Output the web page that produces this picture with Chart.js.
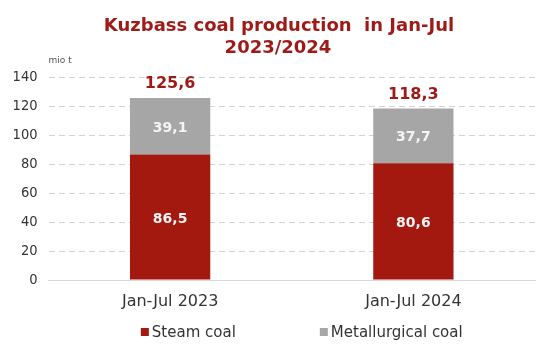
<!DOCTYPE html>
<html>
<head>
<meta charset="utf-8">
<script src="https://cdn.jsdelivr.net/npm/chart.js@4/dist/chart.umd.min.js"></script>
<style>
html,body{margin:0;padding:0;background:#fff;}
#wrap{width:554px;height:359px;position:relative;}
</style>
</head>
<body>
<div id="wrap"><canvas id="c" width="554" height="359"></canvas></div>
<script>
const categories = ["Jan-Jul 2023", "Jan-Jul 2024"];
const steamCoal = [86.5, 80.6];
const metallurgicalCoal = [39.1, 37.7];
const totals = [125.6, 118.3];
const seriesNames = ["Steam coal", "Metallurgical coal"];
const titleLines = ["Kuzbass coal production  in Jan-Jul", "2023/2024"];
const unitLabel = "mio t";

const RED = "#a3180f";
const GRAY = "#a6a6a6";
const TITLE_COLOR = "#9e1a16";
const FONT = "'DejaVu Sans', Verdana, sans-serif";
const FONT_COND = "'DejaVu Sans Condensed', 'DejaVu Sans', sans-serif";

const fmt = v => v.toFixed(1).replace('.', ',');

const overlay = {
  id: 'overlay',
  afterDraw(chart) {
    const ctx = chart.ctx;
    const ca = chart.chartArea;
    ctx.save();
    // title
    ctx.fillStyle = TITLE_COLOR;
    ctx.font = "bold 18px " + FONT;
    ctx.textAlign = 'center';
    ctx.textBaseline = 'alphabetic';
    ctx.fillText(titleLines[0], 279, 31);
    ctx.fillText(titleLines[1], 278, 53);
    // unit
    ctx.textBaseline = 'middle';
    ctx.font = "9px " + FONT;
    ctx.fillStyle = "#555";
    ctx.textAlign = 'left';
    ctx.fillText(unitLabel, ca.left, 61);
    // segment labels
    ctx.font = "bold 14px " + FONT;
    ctx.fillStyle = "#f4f4f4";
    ctx.textAlign = 'center';
    chart.data.datasets.forEach((ds, di) => {
      const meta = chart.getDatasetMeta(di);
      meta.data.forEach((el, i) => {
        ctx.fillText(fmt(ds.data[i]), el.x, (el.y + el.base) / 2 + 2);
      });
    });
    // totals
    const topMeta = chart.getDatasetMeta(chart.data.datasets.length - 1);
    ctx.font = "bold 16px " + FONT;
    ctx.fillStyle = TITLE_COLOR;
    topMeta.data.forEach((el, i) => {
      ctx.fillText(fmt(totals[i]), el.x, el.y - 14);
    });
    // legend
    ctx.font = "15px " + FONT;
    ctx.textAlign = 'left';
    const items = chart.data.datasets.map(d => ({label: d.label, color: d.backgroundColor}));
    const box = 8, gapBox = 3, gapItem = 84;
    const widths = items.map(it => box + gapBox + ctx.measureText(it.label).width);
    const total = widths.reduce((a, b) => a + b, 0) + gapItem * (items.length - 1);
    let x = (ca.left + ca.right) / 2 + 10 - total / 2;
    const y = 332;
    items.forEach((it, k) => {
      ctx.fillStyle = it.color;
      ctx.fillRect(x, y - box / 2, box, box);
      ctx.fillStyle = "#333";
      ctx.fillText(it.label, x + box + gapBox, y + 1);
      x += widths[k] + gapItem;
    });
    ctx.restore();
  }
};

new Chart(document.getElementById('c'), {
  type: 'bar',
  data: {
    labels: categories,
    datasets: [
      {label: seriesNames[0], data: steamCoal, backgroundColor: RED},
      {label: seriesNames[1], data: metallurgicalCoal, backgroundColor: GRAY}
    ]
  },
  options: {
    responsive: false,
    animation: false,
    devicePixelRatio: 1,
    layout: {padding: {top: 77, right: 19, bottom: 40, left: 0}},
    plugins: {legend: {display: false}, title: {display: false}, tooltip: {enabled: false}},
    datasets: {bar: {categoryPercentage: 1, barPercentage: 0.33}},
    scales: {
      x: {
        stacked: true,
        grid: {display: false},
        border: {display: true, color: "#d9d9d9", width: 1},
        ticks: {color: "#333", font: {family: FONT, size: 16}, padding: 4},
        afterFit(s) { s.height = 39; }
      },
      y: {
        stacked: true,
        min: 0, max: 140,
        ticks: {stepSize: 20, color: "#333", font: {family: FONT_COND, size: 14.5}, padding: 11},
        grid: {
          color: c => c.tick.value === 0 ? 'rgba(0,0,0,0)' : '#d3d3d3',
          drawTicks: false
        },
        border: {display: false, dash: [6, 4]},
        afterFit(s) { s.width = 48.5; }
      }
    }
  },
  plugins: [overlay]
});
</script>
</body>
</html>
